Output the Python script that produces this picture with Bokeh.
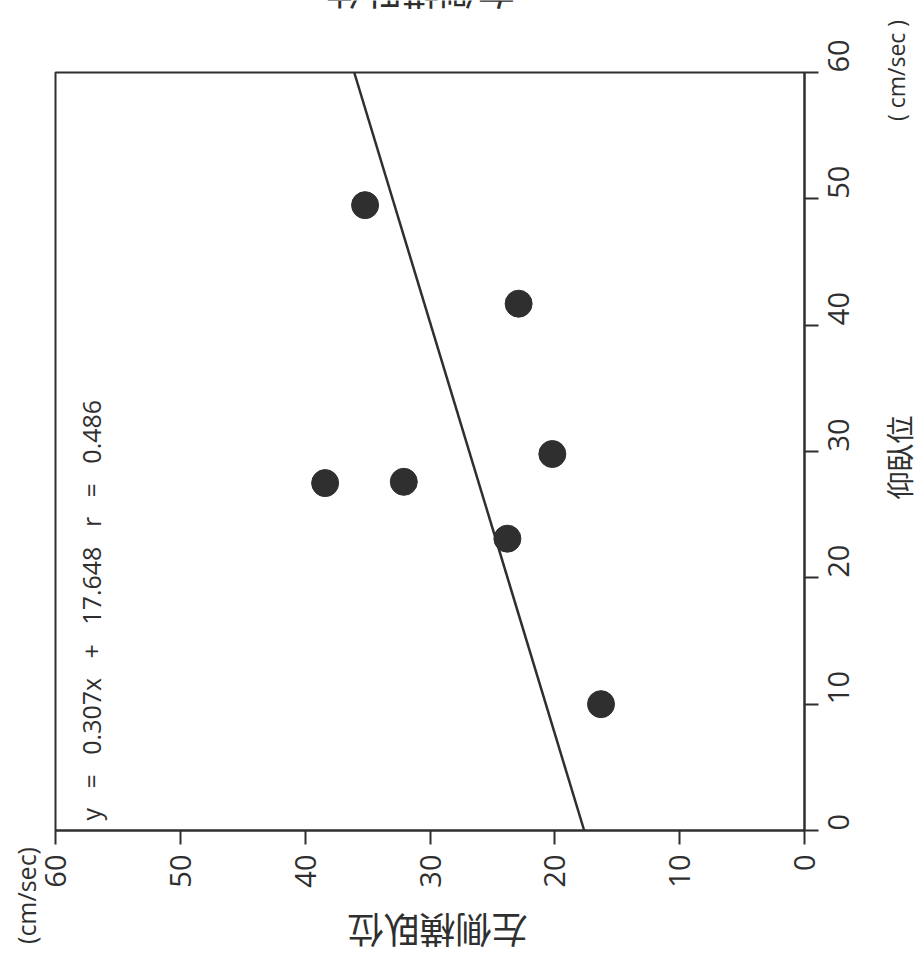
import math

from bokeh.embed import file_html
from bokeh.models import FixedTicker, Label, LinearAxis, Range1d
from bokeh.plotting import figure
from bokeh.resources import INLINE

# Blood flow velocity (cm/sec) in two positions for each subject
supine = [49.5, 41.7, 29.8, 27.6, 27.5, 23.1, 10.0]          # 仰臥位
left_lateral = [35.2, 22.9, 20.2, 32.1, 38.4, 23.8, 16.3]    # 左側横臥位

# Regression line  y = a*x + b
slope = 0.307
intercept = 17.648
r_value = 0.486
line_x = [0, 60]

tick_values = [0, 10, 20, 30, 40, 50, 60]
lo, hi = tick_values[0], tick_values[-1]

INK = "#2f2f2f"
DIGIT_FONT = "Open Sans"
CJK_FONT = "Noto Sans CJK JP"

# Canvas and where the plotting box sits on it (pixels).  The page is turned a
# quarter turn: supine velocity runs upward on the right-hand axis, the
# left-lateral velocity runs right-to-left along the bottom axis.
W, H = 922, 958
BOX_L, BOX_R, BOX_T, BOX_B = 55, 804, 72, 830
kx = (BOX_R - BOX_L) / (hi - lo)
ky = (BOX_B - BOX_T) / (hi - lo)

# The frame covers the whole canvas so that texts around the box are not clipped;
# the axes are pinned to the box edges with fixed_location.
p = figure(
    width=W, height=H,
    x_range=Range1d(hi + BOX_L / kx, lo - (W - BOX_R) / kx),
    y_range=Range1d(lo - (H - BOX_B) / ky, hi + BOX_T / ky),
    x_axis_location=None, y_axis_location=None,
    toolbar_location=None, output_backend="svg",
    min_border=0,
)
p.background_fill_color = "white"
p.border_fill_color = "white"
p.outline_line_color = None
p.grid.visible = False

bottom_axis = LinearAxis(fixed_location=lo, bounds=(lo, hi))
right_axis = LinearAxis(fixed_location=lo, bounds=(lo, hi))
for ax in (bottom_axis, right_axis):
    ax.ticker = FixedTicker(ticks=tick_values)
    ax.axis_line_color = INK
    ax.axis_line_width = 2
    ax.major_tick_line_color = INK
    ax.major_tick_line_width = 2
    ax.major_tick_out = 14
    ax.major_tick_in = 0
    ax.minor_tick_line_color = None
    ax.major_label_text_font = DIGIT_FONT
    ax.major_label_text_color = INK
    ax.major_label_text_font_size = "29px"
    ax.major_label_orientation = math.pi / 2
bottom_axis.major_label_standoff = 10
right_axis.major_label_standoff = 20
p.add_layout(bottom_axis, "below")
p.add_layout(right_axis, "right")

# top and left edges of the box
p.quad(left=[hi], right=[lo], bottom=[lo], top=[hi],
       fill_color=None, line_color=INK, line_width=2)

# regression line (x = supine, y = left lateral)
line_y = [slope * v + intercept for v in line_x]
p.line(x=line_y, y=line_x, line_color=INK, line_width=2.5)

# subjects
p.scatter(x=left_lateral, y=supine, size=27, marker="circle",
          fill_color=INK, line_color=INK)


def at(px, py):
    """Canvas pixel -> data coordinates."""
    return hi - (px - BOX_L) / kx, lo + (BOX_B - py) / ky


def add_text(px, py, text, font, size, angle, align="center"):
    x, y = at(px, py)
    p.add_layout(Label(
        x=x, y=y, angle=angle, text=text,
        text_font=font, text_font_size=size, text_color=INK,
        text_align=align, text_baseline="middle",
    ))


gap = "\u00a0\u00a0\u00a0"
equation = (f"y{gap}={gap}{slope}x{gap}+{gap}{intercept}"
            f"{gap}r{gap}={gap}{r_value}")
add_text(90, 820, equation, DIGIT_FONT, "25px", math.pi / 2, align="left")

# axis titles and units
add_text(898, 457, "仰臥位", CJK_FONT, "28px", math.pi / 2)
add_text(895, 70, "( cm/sec )", DIGIT_FONT, "23px", math.pi / 2)
add_text(25, 895, "(cm/sec)", DIGIT_FONT, "25px", math.pi / 2)
add_text(437, 931, "左側横臥位", CJK_FONT, "36px", math.pi)
add_text(420, -7, "右側横臥位", CJK_FONT, "38px", math.pi)

open("out.html", "w").write(file_html(p, INLINE))
